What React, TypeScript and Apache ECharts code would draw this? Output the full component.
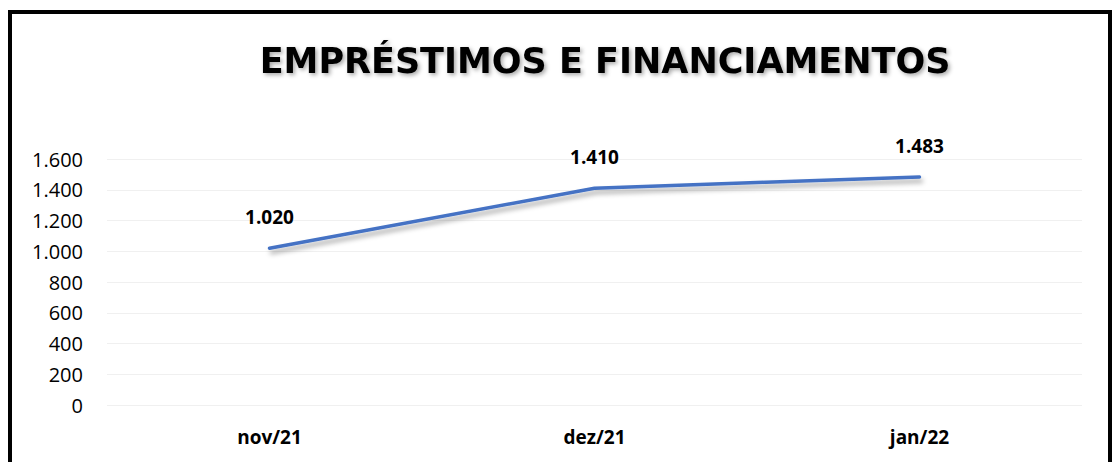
import React, { useEffect, useRef } from "react";
import * as echarts from "echarts";

const categories = ["nov/21", "dez/21", "jan/22"];
const values = [1020, 1410, 1483];
const yTicks = { min: 0, max: 1600, interval: 200 };
const titleText = "EMPRÉSTIMOS E FINANCIAMENTOS";

const fmt = (v: number) => {
  const s = Math.round(v).toString();
  return s.replace(/\B(?=(\d{3})+(?!\d))/g, ".");
};

export default function App() {
  const ref = useRef<HTMLDivElement>(null);
  useEffect(() => {
    if (!ref.current) return;
    const chart = echarts.init(ref.current, undefined, { renderer: "svg" });
    chart.setOption({
      animation: false,
      backgroundColor: "#ffffff",
      textStyle: { fontFamily: "Open Sans" },
      title: {
        text: titleText,
        left: 600,
        textAlign: "center",
        top: 38,
        textStyle: {
          fontFamily: "DejaVu Sans",
          fontWeight: "bold",
          fontSize: 35,
          color: "#000000",
          textShadowColor: "rgba(0,0,0,0.35)",
          textShadowBlur: 4,
          textShadowOffsetX: 2,
          textShadowOffsetY: 2,
        },
      },
      grid: { left: 107, right: 32, top: 159, bottom: 57, containLabel: false },
      xAxis: {
        type: "category",
        data: categories,
        boundaryGap: true,
        axisLine: { show: false },
        axisTick: { show: false },
        axisLabel: {
          margin: 22,
          fontFamily: "Open Sans",
          fontWeight: "bold",
          fontSize: 19,
          color: "#000000",
        },
      },
      yAxis: {
        type: "value",
        min: yTicks.min,
        max: yTicks.max,
        interval: yTicks.interval,
        axisLine: { show: false },
        axisTick: { show: false },
        splitLine: { lineStyle: { color: "#f0f0f0", width: 1 } },
        axisLabel: {
          margin: 24,
          fontFamily: "Open Sans",
          fontSize: 20,
          color: "#000000",
          formatter: (v: number) => fmt(v),
        },
      },
      series: [
        {
          type: "line",
          data: values,
          symbol: "circle",
          symbolSize: 1,
          itemStyle: { color: "#4472C4" },
          lineStyle: {
            color: "#4472C4",
            width: 3.5,
            cap: "round",
            shadowColor: "rgba(0,0,0,0.35)",
            shadowBlur: 5,
            shadowOffsetX: 2,
            shadowOffsetY: 4,
          },
          label: {
            show: true,
            position: "top",
            distance: 21,
            fontFamily: "Open Sans",
            fontWeight: "bold",
            fontSize: 19,
            color: "#000000",
            formatter: (p: any) => fmt(p.value),
          },
        },
      ],
      graphic: [
        {
          type: "rect",
          shape: { x: 10, y: 12, width: 1100, height: 600 },
          style: { fill: "none", stroke: "#000000", lineWidth: 4 },
          silent: true,
        },
      ],
    });
    return () => chart.dispose();
  }, []);
  return (
    <div
      ref={ref}
      style={{ position: "fixed", left: 0, top: 0, width: 1114, height: 462 }}
    />
  );
}
